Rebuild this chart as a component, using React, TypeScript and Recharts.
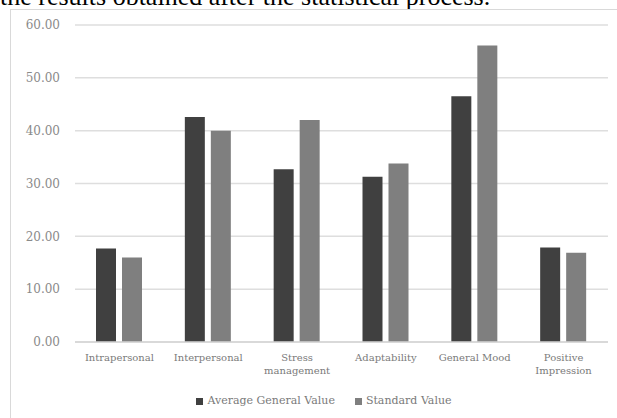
import { BarChart, Bar, XAxis, YAxis, CartesianGrid } from "recharts"

const categories = [
  "Intrapersonal",
  "Interpersonal",
  "Stress management",
  "Adaptability",
  "General Mood",
  "Positive Impression",
]
const averageGeneral = [17.7, 42.6, 32.7, 31.3, 46.5, 17.9]
const standardValue = [16.0, 40.0, 42.0, 33.8, 56.1, 16.9]
const yTicks = [0, 10, 20, 30, 40, 50, 60]

const seriesNames = ["Average General Value", "Standard Value"]
const seriesColors = ["#404040", "#7f7f7f"]

const chartData = categories.map((name, i) => ({
  name,
  avg: averageGeneral[i],
  std: standardValue[i],
}))

const SERIF = "'DejaVu Serif', 'Liberation Serif', serif"

// long category names go on two lines, split at the space
function CategoryTick({ x, y, payload }: any) {
  const label: string = payload.value
  const lines = label.length > 14 ? label.split(" ") : [label]
  return (
    <text x={x} y={y} textAnchor="middle" fill="#7a7a7a" fontSize={10} fontFamily={SERIF}>
      {lines.map((line, i) => (
        <tspan key={i} x={x} dy={i === 0 ? 11 : 13}>
          {line}
        </tspan>
      ))}
    </text>
  )
}

export default function App() {
  return (
    <div
      style={{
        position: "absolute",
        left: 0,
        top: 0,
        width: 617,
        height: 418,
        overflow: "hidden",
        background: "#ffffff",
      }}
    >
      <div
        style={{
          position: "absolute",
          left: 0,
          top: -16,
          fontFamily: "'Liberation Serif', serif",
          fontSize: 26,
          lineHeight: "26px",
          color: "#000",
          whiteSpace: "nowrap",
        }}
      >
        the results obtained after the statistical process.
      </div>
      <div
        style={{
          position: "absolute",
          left: 10,
          top: 9,
          width: 640,
          height: 440,
          border: "1px solid #d9d9d9",
        }}
      />
      <div style={{ position: "absolute", left: 0, top: 0 }}>
        <BarChart
          width={617}
          height={418}
          data={chartData}
          margin={{ top: 25, right: 9, left: 0, bottom: 46 }}
          barSize={20}
          barGap={6}
        >
          <CartesianGrid vertical={false} stroke="#dedede" strokeWidth={1.5} />
          <XAxis
            dataKey="name"
            height={30}
            interval={0}
            axisLine={{ stroke: "#d4d4d4", strokeWidth: 1.5 }}
            tickLine={false}
            tick={<CategoryTick />}
          />
          <YAxis
            width={75}
            domain={[0, 60]}
            ticks={yTicks}
            axisLine={false}
            tickLine={false}
            tickMargin={9}
            tick={{ fill: "#8a8a8a", fontSize: 12, fontFamily: SERIF }}
            tickFormatter={(v: number) => v.toFixed(2)}
          />
          <Bar dataKey="avg" name={seriesNames[0]} fill={seriesColors[0]} isAnimationActive={false} />
          <Bar dataKey="std" name={seriesNames[1]} fill={seriesColors[1]} isAnimationActive={false} />
        </BarChart>
      </div>
      <div
        style={{
          position: "absolute",
          left: 0,
          top: 393,
          width: 648,
          display: "flex",
          justifyContent: "center",
          gap: 20,
          fontFamily: SERIF,
          fontSize: 11,
          color: "#7a7a7a",
          lineHeight: "16px",
        }}
      >
        {seriesNames.map((name, i) => (
          <div key={name} style={{ display: "flex", alignItems: "center", gap: 4 }}>
            <span style={{ width: 7, height: 7, background: seriesColors[i], display: "inline-block" }} />
            <span>{name}</span>
          </div>
        ))}
      </div>
    </div>
  )
}
